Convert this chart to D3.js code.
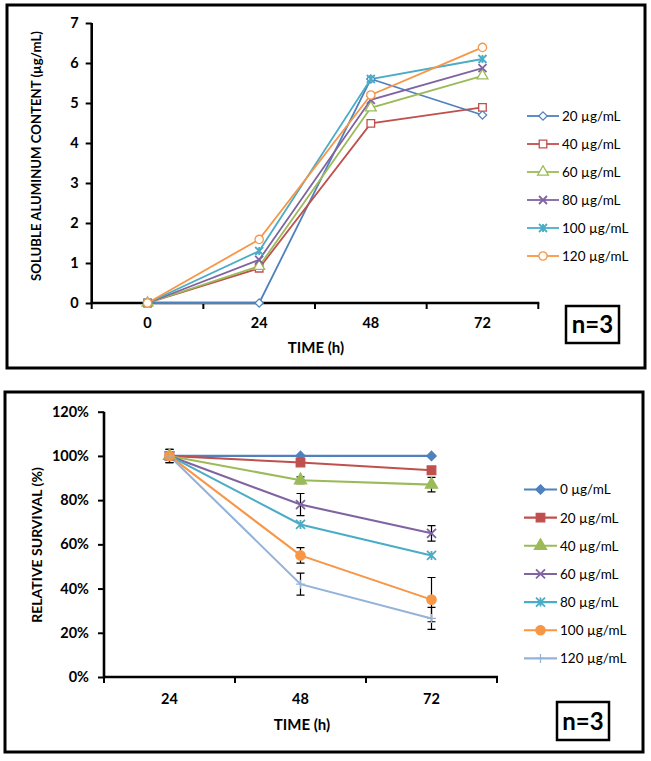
<!DOCTYPE html>
<html><head><meta charset="utf-8">
<script src="https://cdn.jsdelivr.net/npm/d3@7"></script>
<style>
body{margin:0;background:#fff;}
svg{display:block;font-family:Lato,"Open Sans",sans-serif;}
</style></head>
<body><svg id="c" width="651" height="761"></svg>
<script>
// ---------- Data: top chart ----------
const topTimes = ["0", "24", "48", "72"];
const topYTicks = [0, 1, 2, 3, 4, 5, 6, 7];
const topSeriesNames = ["20 µg/mL", "40 µg/mL", "60 µg/mL", "80 µg/mL", "100 µg/mL", "120 µg/mL"];
const topVals20  = [0, 0.00, 5.60, 4.70];
const topVals40  = [0, 0.87, 4.49, 4.89];
const topVals60  = [0, 0.92, 4.88, 5.68];
const topVals80  = [0, 1.08, 5.08, 5.87];
const topVals100 = [0, 1.30, 5.60, 6.10];
const topVals120 = [0, 1.59, 5.20, 6.39];

// ---------- Data: bottom chart ----------
const botTimes = ["24", "48", "72"];
const botYTicks = [0, 0.2, 0.4, 0.6, 0.8, 1.0, 1.2];
const botSeriesNames = ["0 µg/mL", "20 µg/mL", "40 µg/mL", "60 µg/mL", "80 µg/mL", "100 µg/mL", "120 µg/mL"];
const botVals0   = [1.00, 1.00, 1.00];
const botVals20  = [1.00, 0.97, 0.935];
const botVals40  = [1.00, 0.89, 0.87];
const botVals60  = [1.00, 0.78, 0.65];
const botVals80  = [1.00, 0.69, 0.55];
const botVals100 = [1.00, 0.55, 0.35];
const botVals120 = [1.00, 0.42, 0.265];
const botErr0   = [0, 0, 0];
const botErr20  = [0, 0, 0];
const botErr40  = [0, 0.015, 0.033];
const botErr60  = [0, 0.05, 0.035];
const botErr80  = [0, 0, 0];
const botErr100 = [0.03, 0.035, 0.10];
const botErr120 = [0.03, 0.05, 0.05];

const colors = ["#4F81BD", "#C0504D", "#9BBB59", "#8064A2", "#4BACC6", "#F79646", "#95B3D7"];

const svg = d3.select("#c");

// marker drawing
function marker(g, type, color, filled, size) {
  const s = size;
  const fill = filled ? color : "#fff";
  const h = s/2;
  if (type === "diamond") {
    const r = h * 1.05;
    g.append("path").attr("d", `M0,${-r}L${r},0L0,${r}L${-r},0Z`)
      .attr("fill", fill).attr("stroke", color).attr("stroke-width", 1.2);
  } else if (type === "square") {
    g.append("path").attr("d", d3.symbol().type(d3.symbolSquare).size(s*s*0.9)())
      .attr("fill", fill).attr("stroke", color).attr("stroke-width", 1.3);
  } else if (type === "triangle") {
    g.append("path").attr("d", d3.symbol().type(d3.symbolTriangle).size(s*s*0.8)())
      .attr("fill", fill).attr("stroke", color).attr("stroke-width", 1.3);
  } else if (type === "circle") {
    g.append("path").attr("d", d3.symbol().type(d3.symbolCircle).size(s*s*0.85)())
      .attr("fill", fill).attr("stroke", color).attr("stroke-width", 1.3);
  } else if (type === "x") {
    g.append("path").attr("d", `M${-h},${-h}L${h},${h}M${-h},${h}L${h},${-h}`)
      .attr("stroke", color).attr("stroke-width", 1.8).attr("fill", "none");
  } else if (type === "star") {
    g.append("path").attr("d", `M${-h},${-h}L${h},${h}M${-h},${h}L${h},${-h}M0,${-h}L0,${h}`)
      .attr("stroke", color).attr("stroke-width", 1.8).attr("fill", "none");
  } else if (type === "plus") {
    g.append("path").attr("d", `M${-h},0L${h},0M0,${-h}L0,${h}`)
      .attr("stroke", color).attr("stroke-width", 1.2).attr("fill", "none");
  }
}

function frame(x0, y0, x1, y1, w) {
  svg.append("rect").attr("x", x0).attr("y", y0).attr("width", x1-x0).attr("height", y1-y0)
    .attr("fill", "none").attr("stroke", "#000").attr("stroke-width", w);
}

function nBox(x0, y0, x1, y1) {
  frame(x0, y0, x1, y1, 2.5);
  svg.append("text").attr("x", (x0+x1)/2).attr("y", (y0+y1)/2).attr("dy", "0.36em")
    .attr("text-anchor", "middle").attr("font-weight", "bold").attr("font-size", 24)
    .text("n=3");
}

function drawChart(cfg) {
  const x = d3.scaleBand().domain(cfg.cats).range([cfg.left, cfg.right]);
  const y = d3.scaleLinear().domain([0, cfg.ymax]).range([cfg.bottom, cfg.top]);
  const g = svg.append("g");

  // y axis
  const ya = g.append("g").attr("transform", `translate(${cfg.left},0)`)
    .call(d3.axisLeft(y).tickValues(cfg.yticks).tickFormat(cfg.yfmt).tickSize(6).tickPadding(cfg.ypad));
  ya.select(".domain").attr("stroke-width", 2.6).attr("d", `M0,${cfg.bottom+1}V${cfg.top}`);
  ya.selectAll(".tick line").attr("stroke-width", 2);
  ya.selectAll(".tick text").attr("font-size", cfg.tickFont).attr("font-weight", "bold").attr("font-family", "Lato");

  // x axis with ticks at band boundaries
  const xa = g.append("g").attr("transform", `translate(0,${cfg.bottom})`);
  xa.append("line").attr("x1", cfg.left-1).attr("x2", cfg.right+1).attr("stroke", "#000").attr("stroke-width", 2.6);
  const bounds = cfg.cats.map(c => x(c)).concat([x(cfg.cats[cfg.cats.length-1]) + x.bandwidth()]);
  bounds.forEach(b => xa.append("line").attr("x1", b).attr("x2", b).attr("y1", 0).attr("y2", 6)
    .attr("stroke", "#000").attr("stroke-width", 2));
  cfg.cats.forEach(c => xa.append("text").attr("x", x(c) + x.bandwidth()/2).attr("y", cfg.xlabY - cfg.bottom)
    .attr("dy", "0.36em").attr("text-anchor", "middle").attr("font-size", cfg.tickFont)
    .attr("font-weight", "bold").text(c));

  // axis titles
  g.append("text").attr("x", cfg.xTitleX).attr("y", cfg.xTitleY).attr("dy", "0.36em")
    .attr("text-anchor", "middle").attr("font-weight", "bold").attr("font-size", 15).text("TIME (h)");
  g.append("text").attr("transform", `translate(${cfg.yTitleX},${cfg.yTitleY}) rotate(-90)`)
    .attr("dy", "0.36em").attr("text-anchor", "middle").attr("font-weight", "bold")
    .attr("font-size", cfg.yTitleFont).text(cfg.yTitle);

  const line = d3.line().x((d, i) => x(cfg.cats[i]) + x.bandwidth()/2).y(d => y(d));

  // error bars
  cfg.series.forEach(s => {
    if (!s.err) return;
    s.vals.forEach((v, i) => {
      const e = s.err[i];
      if (!e) return;
      const cx = x(cfg.cats[i]) + x.bandwidth()/2;
      g.append("path").attr("d", `M${cx},${y(v-e)}V${y(v+e)}M${cx-4},${y(v-e)}H${cx+4}M${cx-4},${y(v+e)}H${cx+4}`)
        .attr("stroke", "#000").attr("stroke-width", 1.2).attr("fill", "none");
    });
  });

  // lines
  cfg.series.forEach(s => {
    g.append("path").attr("d", line(s.vals)).attr("fill", "none").attr("stroke", s.color)
      .attr("stroke-width", cfg.lineW);
  });
  // markers
  cfg.series.forEach(s => {
    s.vals.forEach((v, i) => {
      const mg = g.append("g").attr("transform", `translate(${x(cfg.cats[i]) + x.bandwidth()/2},${y(v)})`);
      marker(mg, s.marker, s.color, cfg.filled, cfg.msize);
    });
  });

  // legend
  cfg.series.forEach((s, i) => {
    const ly = cfg.legY0 + i * cfg.legDy;
    const lg = g.append("g").attr("transform", `translate(0,${ly})`);
    lg.append("line").attr("x1", cfg.legX0).attr("x2", cfg.legX1).attr("stroke", s.color).attr("stroke-width", cfg.lineW);
    const mg = lg.append("g").attr("transform", `translate(${(cfg.legX0+cfg.legX1)/2},0)`);
    marker(mg, s.marker, s.color, cfg.filled, cfg.msize);
    lg.append("text").attr("x", cfg.legX1 + 3).attr("dy", "0.36em").attr("font-size", 13.5)
      .text(s.name);
  });
}

// ---- frames
frame(7, 5, 645, 368, 3);
frame(5, 392, 643, 752, 3);

const topMarkers = ["diamond", "square", "triangle", "x", "star", "circle"];
const topValsAll = [topVals20, topVals40, topVals60, topVals80, topVals100, topVals120];
drawChart({
  cats: topTimes, ymax: 7, yticks: topYTicks, yfmt: d3.format("d"), ypad: 7,
  left: 91.7, right: 538.3, top: 23, bottom: 303, tickFont: 14.5,
  xlabY: 323, xTitleX: 316, xTitleY: 348, yTitleX: 36, yTitleY: 156, yTitleFont: 13.2,
  yTitle: "SOLUBLE ALUMINUM CONTENT (µg/mL)", lineW: 1.8, filled: false, msize: 8,
  legY0: 116, legDy: 28, legX0: 527, legX1: 559,
  series: topSeriesNames.map((n, i) => ({name: n, vals: topValsAll[i], color: colors[i], marker: topMarkers[i]}))
});
nBox(566, 306, 619, 343);

const botMarkers = ["diamond", "square", "triangle", "x", "star", "circle", "plus"];
const botValsAll = [botVals0, botVals20, botVals40, botVals60, botVals80, botVals100, botVals120];
const botErrAll = [botErr0, botErr20, botErr40, botErr60, botErr80, botErr100, botErr120];
drawChart({
  cats: botTimes, ymax: 1.2, yticks: botYTicks, yfmt: d3.format(".0%"), ypad: 9,
  left: 104, right: 497, top: 411.7, bottom: 677, tickFont: 14.5,
  xlabY: 699, xTitleX: 302, xTitleY: 725, yTitleX: 37, yTitleY: 545, yTitleFont: 14,
  yTitle: "RELATIVE SURVIVAL (%)", lineW: 2.1, filled: true, msize: 9,
  legY0: 489.5, legDy: 28.15, legX0: 524, legX1: 557,
  series: botSeriesNames.map((n, i) => ({name: n, vals: botValsAll[i], err: botErrAll[i], color: colors[i], marker: botMarkers[i]}))
});
nBox(557, 702, 609, 740);
</script></body></html>
